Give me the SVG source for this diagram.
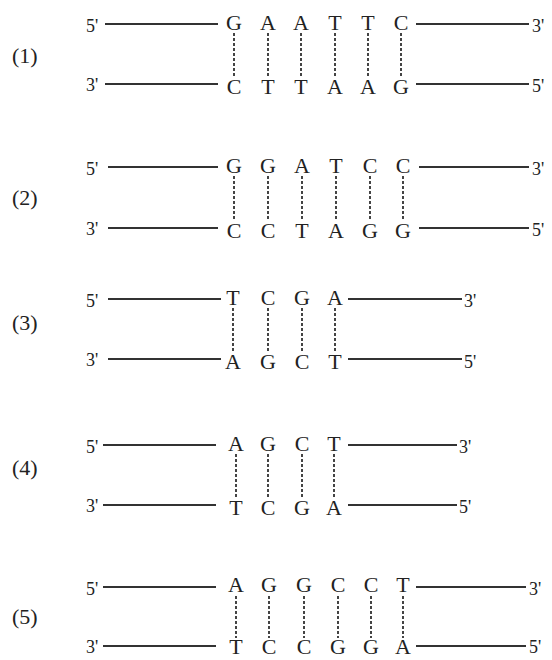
<svg xmlns="http://www.w3.org/2000/svg" width="552" height="660" viewBox="0 0 552 660">
<style>
.b{font-family:"Liberation Serif","Times New Roman",serif;font-size:22px;fill:#222;text-anchor:middle}
.e{font-family:"Liberation Serif","Times New Roman",serif;font-size:18px;fill:#222}
.n{font-family:"Liberation Serif","Times New Roman",serif;font-size:22px;fill:#222}
.s{stroke:#333;stroke-width:2;fill:none}
.h{stroke:#444;stroke-width:2;stroke-dasharray:3 2;fill:none}
</style>
<rect width="552" height="660" fill="#fff"/>

<g id="p1">
<text class="n" x="12" y="63">(1)</text>
<text class="e" x="86" y="32">5'</text>
<text class="e" x="86" y="91">3'</text>
<line class="s" x1="105" y1="24" x2="218" y2="24"/>
<line class="s" x1="105" y1="84" x2="218" y2="84"/>
<line class="s" x1="416" y1="24" x2="529" y2="24"/>
<line class="s" x1="416" y1="84" x2="529" y2="84"/>
<text class="e" x="532" y="32">3'</text>
<text class="e" x="532" y="92">5'</text>
<g class="b">
<text x="234" y="30">G</text><text x="268" y="30">A</text><text x="301" y="30">A</text><text x="335" y="30">T</text><text x="368" y="30">T</text><text x="401" y="30">C</text>
<text x="234" y="94">C</text><text x="268" y="94">T</text><text x="301" y="94">T</text><text x="335" y="94">A</text><text x="368" y="94">A</text><text x="401" y="94">G</text>
</g>
<g class="h">
<line x1="234" y1="33" x2="234" y2="77"/><line x1="268" y1="33" x2="268" y2="77"/><line x1="301" y1="33" x2="301" y2="77"/><line x1="335" y1="33" x2="335" y2="77"/><line x1="368" y1="33" x2="368" y2="77"/><line x1="401" y1="33" x2="401" y2="77"/>
</g>
</g>

<g id="p2">
<text class="n" x="12" y="205">(2)</text>
<text class="e" x="86" y="175">5'</text>
<text class="e" x="86" y="235">3'</text>
<line class="s" x1="108" y1="167" x2="218" y2="167"/>
<line class="s" x1="108" y1="228" x2="218" y2="228"/>
<line class="s" x1="419" y1="167" x2="529" y2="167"/>
<line class="s" x1="419" y1="228" x2="529" y2="228"/>
<text class="e" x="532" y="175">3'</text>
<text class="e" x="532" y="236">5'</text>
<g class="b">
<text x="234" y="173">G</text><text x="268" y="173">G</text><text x="302" y="173">A</text><text x="336" y="173">T</text><text x="370" y="173">C</text><text x="403" y="173">C</text>
<text x="234" y="238">C</text><text x="268" y="238">C</text><text x="302" y="238">T</text><text x="336" y="238">A</text><text x="370" y="238">G</text><text x="403" y="238">G</text>
</g>
<g class="h">
<line x1="234" y1="176" x2="234" y2="221"/><line x1="268" y1="176" x2="268" y2="221"/><line x1="302" y1="176" x2="302" y2="221"/><line x1="336" y1="176" x2="336" y2="221"/><line x1="370" y1="176" x2="370" y2="221"/><line x1="403" y1="176" x2="403" y2="221"/>
</g>
</g>

<g id="p3">
<text class="n" x="12" y="330">(3)</text>
<text class="e" x="86" y="307">5'</text>
<text class="e" x="86" y="366">3'</text>
<line class="s" x1="108" y1="299" x2="221" y2="299"/>
<line class="s" x1="108" y1="359" x2="221" y2="359"/>
<line class="s" x1="348" y1="299" x2="462" y2="299"/>
<line class="s" x1="348" y1="359" x2="462" y2="359"/>
<text class="e" x="464" y="307">3'</text>
<text class="e" x="464" y="368">5'</text>
<g class="b">
<text x="233" y="305">T</text><text x="268" y="305">C</text><text x="302" y="305">G</text><text x="335" y="305">A</text>
<text x="233" y="369">A</text><text x="268" y="369">G</text><text x="302" y="369">C</text><text x="335" y="369">T</text>
</g>
<g class="h">
<line x1="233" y1="308" x2="233" y2="352"/><line x1="268" y1="308" x2="268" y2="352"/><line x1="302" y1="308" x2="302" y2="352"/><line x1="335" y1="308" x2="335" y2="352"/>
</g>
</g>

<g id="p4">
<text class="n" x="12" y="475">(4)</text>
<text class="e" x="86" y="453">5'</text>
<text class="e" x="86" y="512">3'</text>
<line class="s" x1="103" y1="445" x2="216" y2="445"/>
<line class="s" x1="103" y1="505" x2="216" y2="505"/>
<line class="s" x1="348" y1="445" x2="457" y2="445"/>
<line class="s" x1="348" y1="505" x2="457" y2="505"/>
<text class="e" x="459" y="453">3'</text>
<text class="e" x="459" y="513">5'</text>
<g class="b">
<text x="236" y="451">A</text><text x="268" y="451">G</text><text x="302" y="451">C</text><text x="334" y="451">T</text>
<text x="236" y="515">T</text><text x="268" y="515">C</text><text x="302" y="515">G</text><text x="334" y="515">A</text>
</g>
<g class="h">
<line x1="236" y1="454" x2="236" y2="498"/><line x1="268" y1="454" x2="268" y2="498"/><line x1="302" y1="454" x2="302" y2="498"/><line x1="334" y1="454" x2="334" y2="498"/>
</g>
</g>

<g id="p5">
<text class="n" x="12" y="624">(5)</text>
<text class="e" x="86" y="595">5'</text>
<text class="e" x="86" y="653">3'</text>
<line class="s" x1="103" y1="587" x2="216" y2="587"/>
<line class="s" x1="103" y1="646" x2="216" y2="646"/>
<line class="s" x1="416" y1="587" x2="526" y2="587"/>
<line class="s" x1="416" y1="646" x2="526" y2="646"/>
<text class="e" x="529" y="595">3'</text>
<text class="e" x="529" y="653">5'</text>
<g class="b">
<text x="236" y="592">A</text><text x="269" y="592">G</text><text x="304" y="592">G</text><text x="338" y="592">C</text><text x="371" y="592">C</text><text x="403" y="592">T</text>
<text x="236" y="654">T</text><text x="269" y="654">C</text><text x="304" y="654">C</text><text x="338" y="654">G</text><text x="371" y="654">G</text><text x="403" y="654">A</text>
</g>
<g class="h">
<line x1="236" y1="596" x2="236" y2="638"/><line x1="269" y1="596" x2="269" y2="638"/><line x1="304" y1="596" x2="304" y2="638"/><line x1="338" y1="596" x2="338" y2="638"/><line x1="371" y1="596" x2="371" y2="638"/><line x1="403" y1="596" x2="403" y2="638"/>
</g>
</g>
</svg>
